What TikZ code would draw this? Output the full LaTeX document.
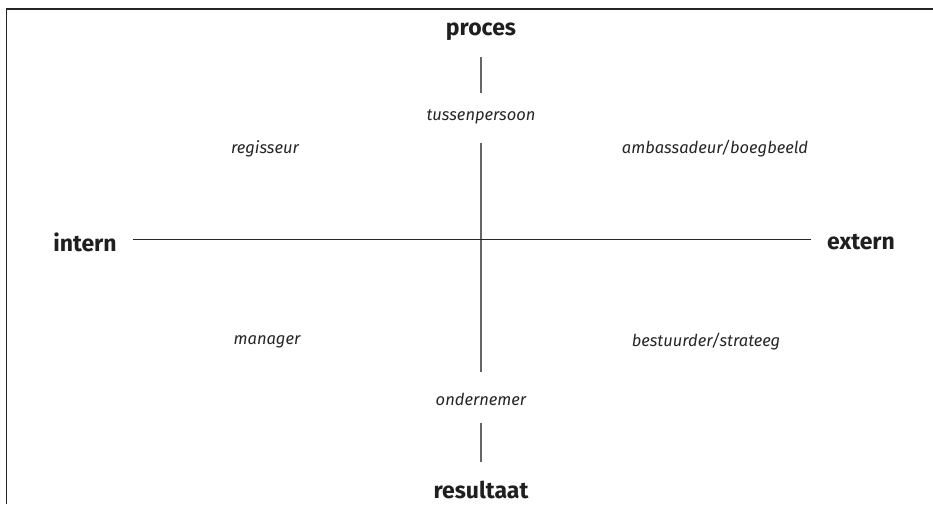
\documentclass[tikz,border=0pt]{standalone}
\usepackage{fontspec}
\setmainfont{Fira Sans}
\begin{document}
\begin{tikzpicture}[x=1pt,y=-1pt,
  axislabel/.style={font=\bfseries\fontsize{23}{25}\selectfont, text=black!88, inner sep=0pt},
  rolelabel/.style={font=\itshape\fontsize{16.5}{18}\selectfont, text=black!85, inner sep=0pt},
  hline/.style={line width=1.4pt, draw=black!85},
  vline/.style={line width=1.8pt, draw=black!60},
  frame/.style={line width=1.6pt, draw=black!85}]
\useasboundingbox (0,0) rectangle (933,504);
\draw[frame] (6.5,504) -- (6.5,9) -- (933,9);
% axis labels
\node[axislabel] (proces) at (481,32) {proces};
\node[axislabel] (resultaat) at (481,490) {resultaat};
\node[axislabel] (intern) at (85,242) {intern};
\node[axislabel] (extern) at (861,242) {extern};
% role labels
\node[rolelabel] (tussen) at (481,117) {tussenpersoon};
\node[rolelabel] (onder) at (481,399) {ondernemer};
\node[rolelabel] (regis) at (265,149) {regisseur};
\node[rolelabel] (amb) at (715,149) {ambassadeur/boegbeeld};
\node[rolelabel] (man) at (267,342) {manager};
\node[rolelabel] (best) at (706,342) {bestuurder/strateeg};
% axes
\coordinate (c) at (481,239.5);
\coordinate (t1) at (481,57);
\coordinate (t2) at (481,93);
\coordinate (m1) at (481,143);
\coordinate (m2) at (481,372);
\coordinate (b1) at (481,423);
\coordinate (b2) at (481,462);
\coordinate (l) at (133,239.5);
\coordinate (r) at (811,239.5);
\draw[vline] (t1) -- (t2);
\draw[vline] (m1) -- (m2);
\draw[vline] (b1) -- (b2);
\draw[hline] (l) -- (r);
\end{tikzpicture}
\end{document}
